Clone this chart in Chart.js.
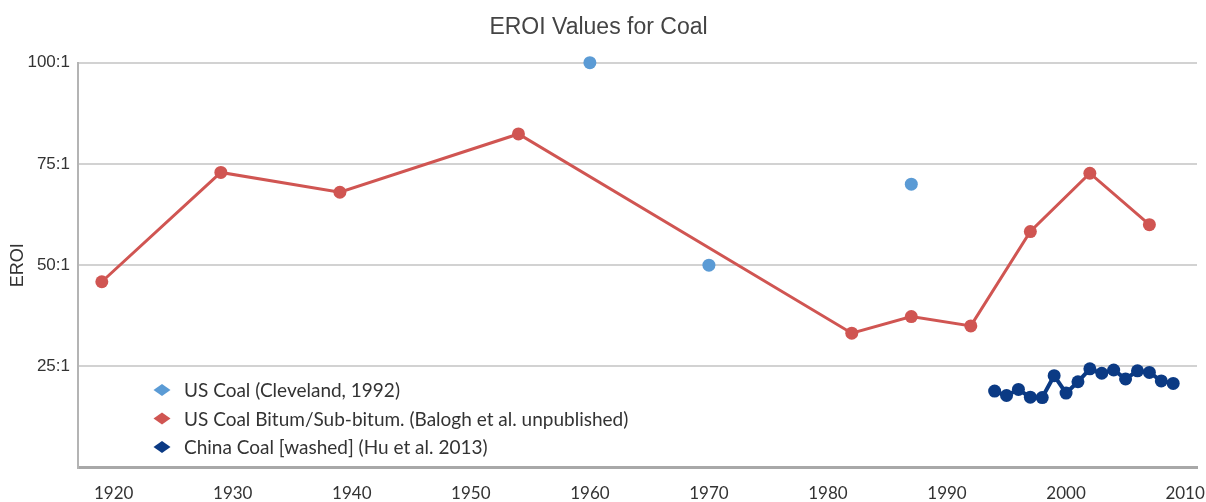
<!DOCTYPE html>
<html>
<head>
<meta charset="utf-8">
<script src="https://cdn.jsdelivr.net/npm/chart.js@4.4.1/dist/chart.umd.min.js"></script>
<style>
html,body{margin:0;padding:0;background:#fff;}
#wrap{width:1206px;height:502px;}
</style>
</head>
<body>
<div id="wrap"><canvas id="c" width="1206" height="502"></canvas></div>
<script>
// ---- data ----
const chartTitle = 'EROI Values for Coal';
const yAxisTitle = 'EROI';
const xTickYears = [1920, 1930, 1940, 1950, 1960, 1970, 1980, 1990, 2000, 2010];
const yTickValues = [0, 25, 50, 75, 100];

const clevelandLabel = 'US Coal (Cleveland, 1992)';
const clevelandYears = [1960, 1970, 1987];
const clevelandEroi = [100, 50, 70];

const baloghLabel = 'US Coal Bitum/Sub-bitum. (Balogh et al. unpublished)';
const baloghYears = [1919, 1929, 1939, 1954, 1982, 1987, 1992, 1997, 2002, 2007];
const baloghEroi = [45.9, 72.9, 68, 82.4, 33.2, 37.3, 35, 58.3, 72.7, 60];

const chinaLabel = 'China Coal [washed] (Hu et al. 2013)';
const chinaYears = [1994, 1995, 1996, 1997, 1998, 1999, 2000, 2001, 2002, 2003, 2004, 2005, 2006, 2007, 2008, 2009];
const chinaEroi = [18.9, 17.8, 19.3, 17.4, 17.3, 22.7, 18.4, 21.2, 24.4, 23.3, 24.1, 21.9, 23.9, 23.5, 21.4, 20.8];

const zip = (xs, ys) => xs.map((x, i) => ({ x: x, y: ys[i] }));

const C_BLUE = '#5b9bd5';
const C_RED = '#d05552';
const C_NAVY = '#0b3a84';

// legend drawn inside the plot area
const insideLegend = {
  id: 'insideLegend',
  afterDraw(chart) {
    const ctx = chart.ctx;
    const ds = chart.data.datasets;
    const x0 = 162, y0 = 390, step = 28.5;
    ctx.save();
    ctx.font = '19px Lato';
    ctx.textBaseline = 'middle';
    ctx.textAlign = 'left';
    ds.forEach((d, i) => {
      const y = y0 + i * step;
      ctx.fillStyle = d.legendColor;
      ctx.beginPath();
      ctx.moveTo(x0 - 8.5, y);
      ctx.lineTo(x0, y - 6);
      ctx.lineTo(x0 + 8.5, y);
      ctx.lineTo(x0, y + 6);
      ctx.closePath();
      ctx.fill();
      ctx.fillStyle = '#333';
      ctx.fillText(d.label, 184, y + 1);
    });
    ctx.restore();
  }
};

new Chart(document.getElementById('c'), {
  type: 'line',
  data: {
    datasets: [
      {
        label: clevelandLabel,
        data: zip(clevelandYears, clevelandEroi),
        showLine: false,
        clip: false,
        borderColor: C_BLUE,
        backgroundColor: C_BLUE,
        pointRadius: 6.5,
        pointHoverRadius: 6.5,
        pointBorderWidth: 0,
        legendColor: C_BLUE
      },
      {
        label: baloghLabel,
        data: zip(baloghYears, baloghEroi),
        clip: false,
        borderColor: C_RED,
        backgroundColor: C_RED,
        borderWidth: 3,
        pointRadius: 6.5,
        pointBorderWidth: 0,
        tension: 0,
        legendColor: C_RED
      },
      {
        label: chinaLabel,
        data: zip(chinaYears, chinaEroi),
        clip: false,
        borderColor: C_NAVY,
        backgroundColor: C_NAVY,
        borderWidth: 4,
        pointRadius: 6.5,
        pointBorderWidth: 0,
        tension: 0,
        legendColor: C_NAVY
      }
    ]
  },
  options: {
    responsive: false,
    animation: false,
    devicePixelRatio: 1,
    layout: { padding: { left: 0, right: 9, top: 0, bottom: 0 } },
    plugins: {
      legend: { display: false },
      tooltip: { enabled: false },
      title: {
        display: true,
        text: chartTitle,
        color: '#444',
        font: { family: 'Liberation Sans', size: 23, weight: 'normal' },
        padding: { top: 14, bottom: 21.1 }
      }
    },
    scales: {
      x: {
        type: 'linear',
        min: 1917,
        max: 2011,
        afterBuildTicks: (s) => { s.ticks = xTickYears.map(v => ({ value: v })); },
        afterFit: (s) => { s.height = 34.4; s.paddingLeft = 0; s.paddingRight = 0; },
        grid: { display: false, drawTicks: false },
        border: { display: true, color: '#a8a8a8', width: 3 },
        ticks: {
          padding: 16,
          maxRotation: 0,
          autoSkip: false,
          color: '#333',
          font: { family: 'Lato', size: 17 },
          callback: (v) => String(v)
        }
      },
      y: {
        type: 'linear',
        min: 0,
        max: 100,
        afterBuildTicks: (s) => { s.ticks = yTickValues.map(v => ({ value: v })); },
        afterFit: (s) => { s.width = 78; },
        grid: {
          drawTicks: false,
          lineWidth: 2,
          color: (c) => (c.tick && c.tick.value === 0) ? 'rgba(0,0,0,0)' : '#d2d2d2'
        },
        border: { display: true, color: '#b4b4b4', width: 2 },
        title: {
          display: true,
          text: yAxisTitle,
          color: '#333',
          font: { family: 'Liberation Sans', size: 18 },
          padding: { top: 7, bottom: 0 }
        },
        ticks: {
          padding: 8,
          color: '#333',
          font: { family: 'Liberation Sans', size: 17 },
          callback: (v) => v === 0 ? '' : v + ':1'
        }
      }
    }
  },
  plugins: [insideLegend]
});
</script>
</body>
</html>
